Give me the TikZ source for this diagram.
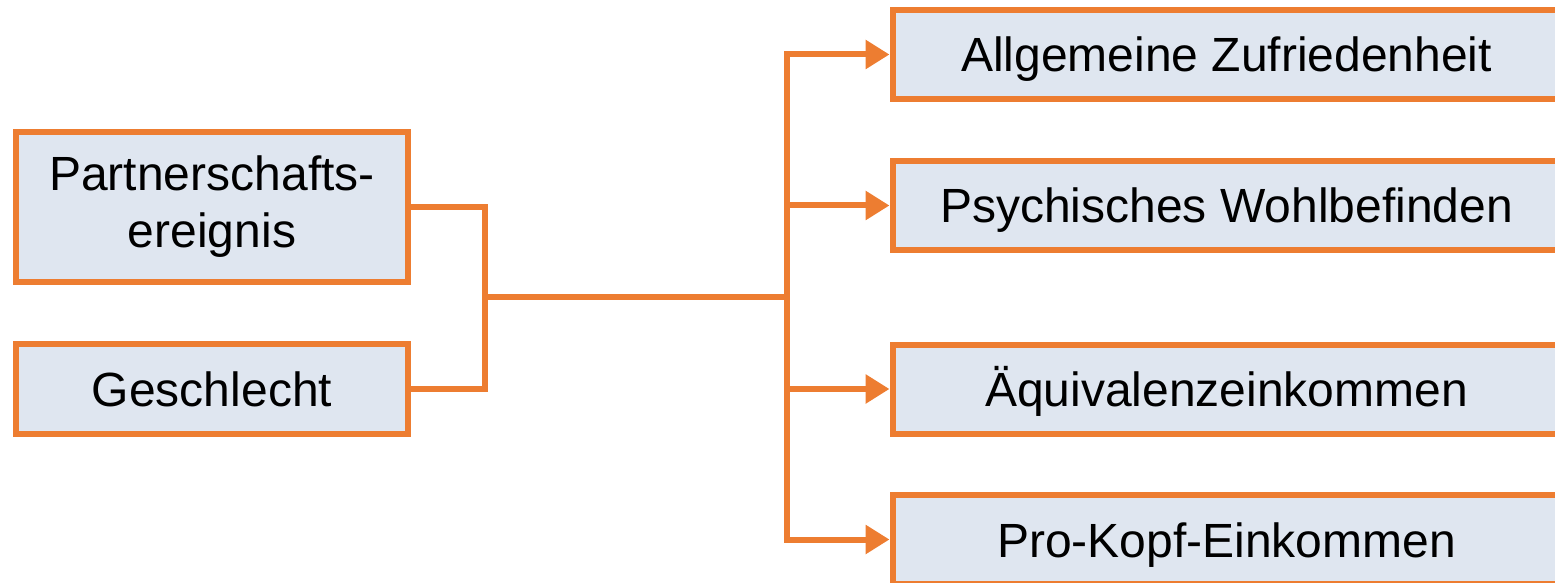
\documentclass[tikz,border=0pt]{standalone}
\usepackage{fontspec}
\setmainfont{Liberation Sans}
\usetikzlibrary{arrows.meta,calc,positioning}
\definecolor{boxorange}{RGB}{237,125,49}
\definecolor{boxfill}{RGB}{223,230,240}

\begin{document}
\begin{tikzpicture}[x=0.5pt, y=-0.5pt,
  box/.style={draw=boxorange, fill=boxfill, line width=3pt, align=center,
    font=\fontsize{24}{28.5}\selectfont, inner sep=0pt},
  leftbox/.style={box, minimum width=196pt},
  onerow/.style={text height=17.5pt, text depth=0pt},
  rightbox/.style={box, onerow, minimum width=334pt, minimum height=44.5pt},
  link/.style={draw=boxorange, line width=3pt},
  arr/.style={link, -{Triangle[length=12pt, width=14pt]}}]
\useasboundingbox (0,0) rectangle (1555,583);
\clip (0,0) rectangle (1555,583);
% inputs
\node[leftbox, minimum height=75pt] (pe) at (212,207) {Partnerschafts-\\ereignis};
\node[leftbox, onerow, minimum height=45pt] (ge) at (212,389) {Geschlecht};
% outcomes
\node[rightbox] (az) at (1226.5,54.5) {Allgemeine Zufriedenheit};
\node[rightbox] (pw) at (1226.5,205.5) {Psychisches Wohlbefinden};
\node[rightbox] (ae) at (1226.5,389) {Äquivalenzeinkommen};
\node[rightbox] (pk) at (1226.5,539.5) {Pro-Kopf-Einkommen};
% connectors
\coordinate (join) at (485,297);
\coordinate (split) at (787,297);
\draw[link] (pe.east) -| (join);
\draw[link] (ge.east) -| (join);
\draw[link] (join) -- (split);
\draw[arr] (split) |- (az.west);
\draw[arr] (split) |- (pw.west);
\draw[arr] (split) |- (ae.west);
\draw[arr] (split) |- (pk.west);
\end{tikzpicture}
\end{document}
